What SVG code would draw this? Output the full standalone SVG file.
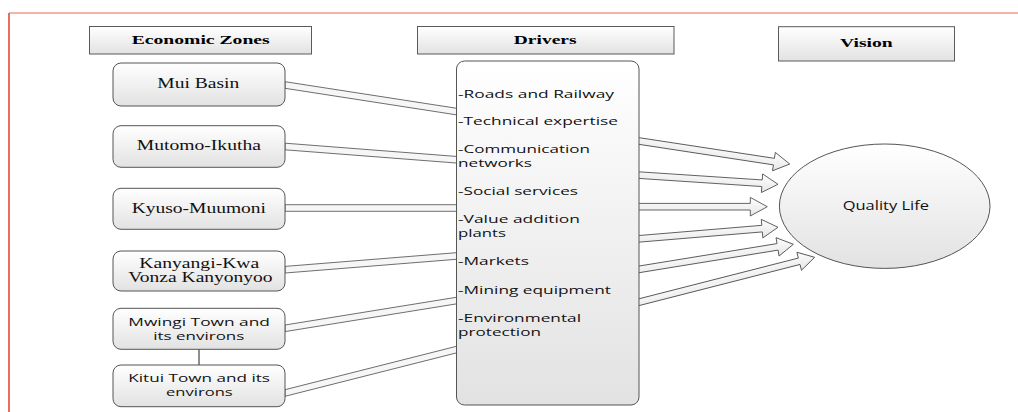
<svg xmlns="http://www.w3.org/2000/svg" width="1018" height="412" viewBox="0 0 1018 412">
<defs>
<linearGradient id="gv" x1="0" y1="0" x2="0" y2="1">
<stop offset="0" stop-color="#ffffff"/>
<stop offset="1" stop-color="#e2e2e2"/>
</linearGradient>
<linearGradient id="ga" x1="0" y1="0" x2="0" y2="1">
<stop offset="0" stop-color="#ffffff"/>
<stop offset="1" stop-color="#e6e6e6"/>
</linearGradient>
<style>
.hdr{fill:url(#gv);stroke:#5a5a5a;stroke-width:1}
.node{fill:url(#gv);stroke:#555555;stroke-width:1}
.shaft{fill:#f6f6f6;stroke:#5e5e5e;stroke-width:0.9}
.arr{fill:url(#ga);stroke:#555555;stroke-width:0.9;stroke-linejoin:miter}
.ht{font-family:"Liberation Serif","Times New Roman",serif;font-weight:bold;font-size:13px;fill:#000}
.st{font-family:"Liberation Serif","Times New Roman",serif;font-size:14.5px;fill:#111}
.ss{font-family:"Open Sans","Noto Sans",sans-serif;font-size:12px;fill:#111}
.sn{font-family:"Open Sans","Noto Sans",sans-serif;font-size:11px;fill:#111}
.dt{font-family:"Open Sans","Noto Sans",sans-serif;font-size:11px;fill:#111}
</style>
</defs>
<rect width="1018" height="412" fill="#ffffff"/>
<g id="frame">
<line x1="9" y1="13" x2="1018" y2="13" stroke="#f2998a" stroke-width="1.5"/>
<line x1="9" y1="13" x2="9" y2="412" stroke="#e53b2c" stroke-width="1.5"/>
</g>
<g id="connectors">
<polygon class="shaft" points="285,81.7 460,108.8 460,115.4 285,88.3"/>
<polygon class="shaft" points="285,143.2 460,156.7 460,163.3 285,149.8"/>
<polygon class="shaft" points="285,204.7 460,204.7 460,211.3 285,211.3"/>
<polygon class="shaft" points="285,266.4 460,252.4 460,259.0 285,273.0"/>
<polygon class="shaft" points="285,325.0 460,296.7 460,303.3 285,331.6"/>
<polygon class="shaft" points="285,389.7 460,345.4 460,352.0 285,396.3"/>
<line x1="199" y1="349" x2="199" y2="365" stroke="#444" stroke-width="1.2"/>
<polygon class="arr" transform="translate(637,140.7) rotate(8.68)" points="0,-3.3 138.5,-3.3 138.5,-9.3 154.5,0 138.5,9.3 138.5,3.3 0,3.3"/>
<polygon class="arr" transform="translate(637,175) rotate(3.77)" points="0,-3.3 125.3,-3.3 125.3,-9.3 141.3,0 125.3,9.3 125.3,3.3 0,3.3"/>
<polygon class="arr" transform="translate(637,206.7)" points="0,-3.3 113.3,-3.3 113.3,-9.3 130.3,0 113.3,9.3 113.3,3.3 0,3.3"/>
<polygon class="arr" transform="translate(637,239) rotate(-4.74)" points="0,-3.3 125.5,-3.3 125.5,-9.3 141.5,0 125.5,9.3 125.5,3.3 0,3.3"/>
<polygon class="arr" transform="translate(637,269.7) rotate(-9.23)" points="0,-3.3 142.4,-3.3 142.4,-9.3 158.4,0 142.4,9.3 142.4,3.3 0,3.3"/>
<polygon class="arr" transform="translate(637,302.7) rotate(-14.33)" points="0,-3.3 167.4,-3.3 167.4,-9.3 183.4,0 167.4,9.3 167.4,3.3 0,3.3"/>
</g>
<g id="hdr-zones">
<rect class="hdr" x="89.5" y="26.5" width="222" height="27.5"/>
<text class="ht" x="131.7" y="44" textLength="138" lengthAdjust="spacingAndGlyphs">Economic Zones</text>
</g>
<g id="hdr-drivers">
<rect class="hdr" x="417.5" y="26.5" width="256.5" height="27.5"/>
<text class="ht" x="513.8" y="44" textLength="62.7" lengthAdjust="spacingAndGlyphs">Drivers</text>
</g>
<g id="hdr-vision">
<rect class="hdr" x="778.5" y="26.7" width="176" height="34.3"/>
<text class="ht" x="840" y="46.5" textLength="52.7" lengthAdjust="spacingAndGlyphs">Vision</text>
</g>
<g id="mui-basin">
<rect class="node" x="113" y="63" width="172" height="43" rx="8"/>
<text class="st" x="157.3" y="88.3" textLength="82" lengthAdjust="spacingAndGlyphs">Mui Basin</text>
</g>
<g id="mutomo-ikutha">
<rect class="node" x="113" y="125.7" width="172" height="41.6" rx="8"/>
<text class="st" x="136.7" y="150" textLength="124.3" lengthAdjust="spacingAndGlyphs">Mutomo-Ikutha</text>
</g>
<g id="kyuso-muumoni">
<rect class="node" x="113" y="188.3" width="172" height="41" rx="8"/>
<text class="st" x="131.7" y="213" textLength="134.3" lengthAdjust="spacingAndGlyphs">Kyuso-Muumoni</text>
</g>
<g id="kanyangi">
<rect class="node" x="113" y="251" width="172" height="40" rx="8"/>
<text class="st" x="139.3" y="267.5" textLength="120" lengthAdjust="spacingAndGlyphs">Kanyangi-Kwa</text>
<text class="st" x="128.3" y="282.3" textLength="144.3" lengthAdjust="spacingAndGlyphs">Vonza Kanyonyoo</text>
</g>
<g id="mwingi">
<rect class="node" x="113" y="308.3" width="172" height="41" rx="8"/>
<text class="sn" x="128.3" y="326" textLength="141.7" lengthAdjust="spacingAndGlyphs">Mwingi Town and</text>
<text class="sn" x="153.3" y="340" textLength="91" lengthAdjust="spacingAndGlyphs">its environs</text>
</g>
<g id="kitui">
<rect class="node" x="113" y="365" width="172" height="41.7" rx="8"/>
<text class="sn" x="128.3" y="382" textLength="141.7" lengthAdjust="spacingAndGlyphs">Kitui Town and its</text>
<text class="sn" x="166" y="396" textLength="66.7" lengthAdjust="spacingAndGlyphs">environs</text>
</g>
<g id="drivers">
<rect class="node" x="456.5" y="61" width="182.5" height="344" rx="8"/>
<text class="dt" x="458" y="97.7" textLength="156" lengthAdjust="spacingAndGlyphs">-Roads and Railway</text>
<text class="dt" x="458" y="125.3" textLength="160" lengthAdjust="spacingAndGlyphs">-Technical expertise</text>
<text class="dt" x="458" y="153" textLength="132" lengthAdjust="spacingAndGlyphs">-Communication</text>
<text class="dt" x="458" y="167" textLength="74" lengthAdjust="spacingAndGlyphs">networks</text>
<text class="dt" x="458" y="195" textLength="120" lengthAdjust="spacingAndGlyphs">-Social services</text>
<text class="dt" x="458" y="223" textLength="122" lengthAdjust="spacingAndGlyphs">-Value addition</text>
<text class="dt" x="458" y="237" textLength="48" lengthAdjust="spacingAndGlyphs">plants</text>
<text class="dt" x="458" y="265" textLength="71" lengthAdjust="spacingAndGlyphs">-Markets</text>
<text class="dt" x="458" y="294" textLength="153" lengthAdjust="spacingAndGlyphs">-Mining equipment</text>
<text class="dt" x="458" y="322" textLength="123" lengthAdjust="spacingAndGlyphs">-Environmental</text>
<text class="dt" x="458" y="336" textLength="83" lengthAdjust="spacingAndGlyphs">protection</text>
</g>
<g id="quality-life">
<ellipse class="node" cx="884.7" cy="206.2" rx="105.3" ry="62.2"/>
<text class="ss" x="842.7" y="210" textLength="86.3" lengthAdjust="spacingAndGlyphs">Quality Life</text>
</g>
</svg>
